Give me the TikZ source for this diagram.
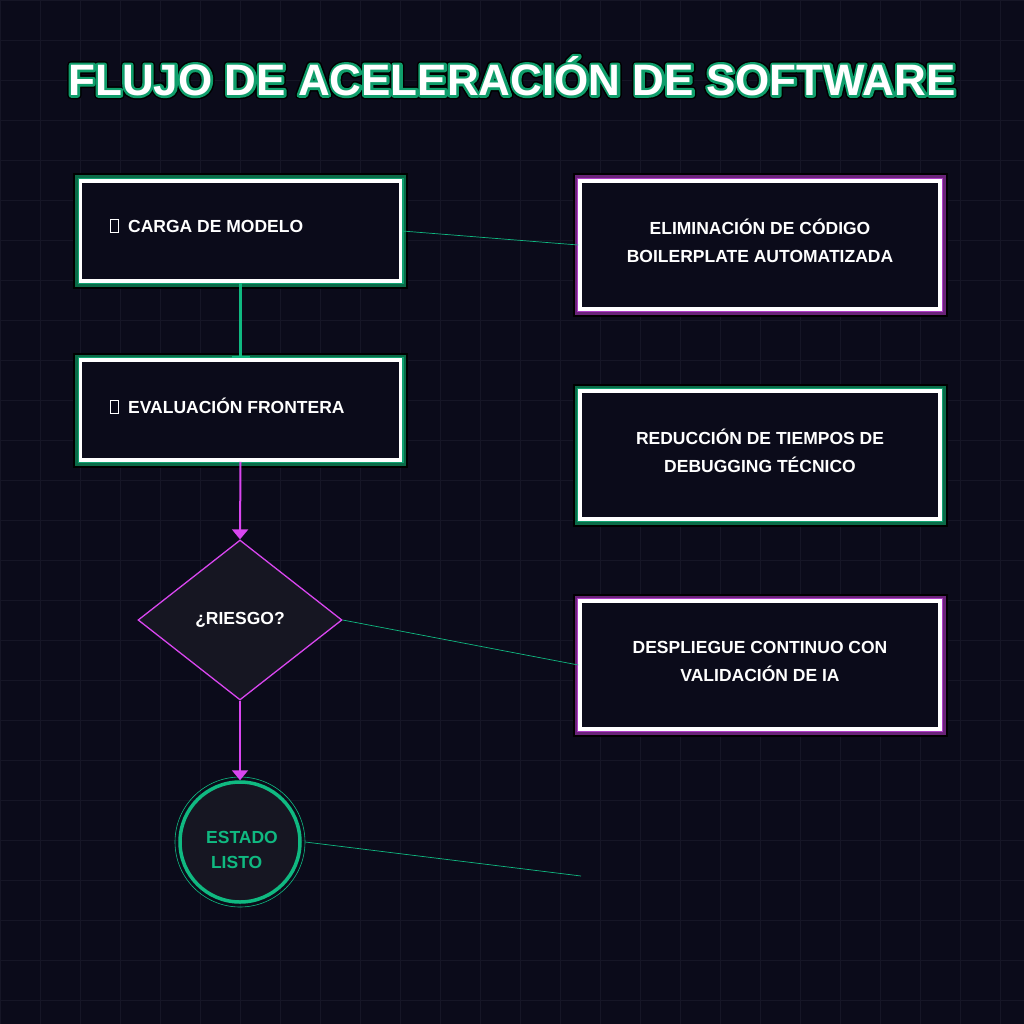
\documentclass[tikz,border=0pt]{standalone}
\usepackage{fontspec}
\setmainfont{Liberation Sans}
\usetikzlibrary{shapes.geometric,arrows.meta}
\definecolor{bg}{HTML}{0B0B1A}
\definecolor{gridc}{HTML}{161626}
\definecolor{grn}{HTML}{10B981}
\definecolor{dgrn}{HTML}{0B6B48}
\definecolor{pur}{HTML}{B03CC8}
\definecolor{mag}{HTML}{D946EF}
\definecolor{dfill}{HTML}{161622}
\newcommand{\tofu}{\tikz[baseline=0pt]\draw[white,line width=0.9pt](0,0)rectangle(8pt,13pt);\ \ }
\begin{document}
\begin{tikzpicture}[x=1pt,y=-1pt,
  txt/.style={text=white,font=\bfseries\fontsize{17.5}{28}\selectfont,align=center},
  gbox/.style={draw=white,line width=3.5pt,fill=bg,rectangle,inner sep=0pt,
    preaction={draw=black,line width=15pt},preaction={draw=dgrn,line width=11pt},preaction={draw=grn!70!dgrn,line width=6pt}},
  pbox/.style={draw=white,line width=3.5pt,fill=bg,rectangle,inner sep=0pt,
    preaction={draw=black,line width=15pt},preaction={draw=pur!60!black,line width=11pt},preaction={draw=pur,line width=6pt}},
  conn/.style={grn,line width=0.7pt},
  parr/.style={mag,line width=2pt,-{Triangle[length=10pt,width=16pt]}}]
\useasboundingbox (0,0) rectangle (1024,1024);
\fill[bg] (0,0) rectangle (1024,1024);
\foreach \i in {0,40,...,1000}{\draw[gridc,line width=0.8pt] (\i,0)--(\i,1024); \draw[gridc,line width=0.8pt] (0,\i)--(1024,\i);}
\node[font=\bfseries\fontsize{44}{50}\selectfont,text=white] (title0) at (512,76)
  {\special{pdf:literal direct 2 Tr 8 w 1 j 0 0 0 RG}FLUJO DE ACELERACIÓN DE SOFTWARE\special{pdf:literal direct 0 Tr}};
\node[font=\bfseries\fontsize{44}{50}\selectfont,text=white] (title1) at (512,76)
  {\special{pdf:literal direct 2 Tr 5 w 1 j 0.06 0.62 0.42 RG}FLUJO DE ACELERACIÓN DE SOFTWARE\special{pdf:literal direct 0 Tr}};
\node[font=\bfseries\fontsize{44}{50}\selectfont,text=white] (title) at (512,76) {FLUJO DE ACELERACIÓN DE SOFTWARE};
\node[gbox,minimum width=320pt,minimum height=100pt] (b1) at (240.5,231) {};
\node[txt,anchor=west] (t1) at (106,226) {\tofu CARGA DE MODELO};
\node[gbox,minimum width=320pt,minimum height=100pt] (b2) at (240.5,410) {};
\node[txt,anchor=west] (t2) at (106,406) {\tofu EVALUACIÓN FRONTERA};
\node[pbox,minimum width=360pt,minimum height=128pt] (r1) at (760,245) {};
\node[txt] (t3) at (760,241) {ELIMINACIÓN DE CÓDIGO\\BOILERPLATE AUTOMATIZADA};
\node[gbox,minimum width=360pt,minimum height=128pt] (r2) at (760,455) {};
\node[txt] (t4) at (760,451) {REDUCCIÓN DE TIEMPOS DE\\DEBUGGING TÉCNICO};
\node[pbox,minimum width=360pt,minimum height=128pt] (r3) at (760,665) {};
\node[txt] (t5) at (760,661) {DESPLIEGUE CONTINUO CON\\VALIDACIÓN DE IA};
\node[diamond,draw=mag,fill=dfill,line width=1.3pt,minimum width=204pt,minimum height=160pt,inner sep=0pt,txt] (d) at (240,620) {¿RIESGO?};
\node[circle,draw=grn,line width=0.6pt,minimum size=130pt,inner sep=0pt] (co) at (240,842) {};
\node[circle,draw=grn,fill=dfill,line width=3.5pt,minimum size=120pt,inner sep=0pt] (c) at (240,842) {};
\node[text=grn,font=\bfseries\fontsize{17.5}{25}\selectfont,align=left] (ct) at (242,850) {ESTADO\\\ LISTO};
\coordinate (e) at (581,876);
\draw[conn] (b1.east) -- (r1.west);
\draw[conn] (d.east) -- (r3.west);
\draw[conn] (co.east) -- (e);
\draw[grn,line width=2.5pt,-{Bar[width=18pt]}] (b1.south) -- (b2.north);
\draw[parr] (b2.south) -- (d.north);
\draw[parr] (d.south) -- (c.north);
\end{tikzpicture}
\end{document}
